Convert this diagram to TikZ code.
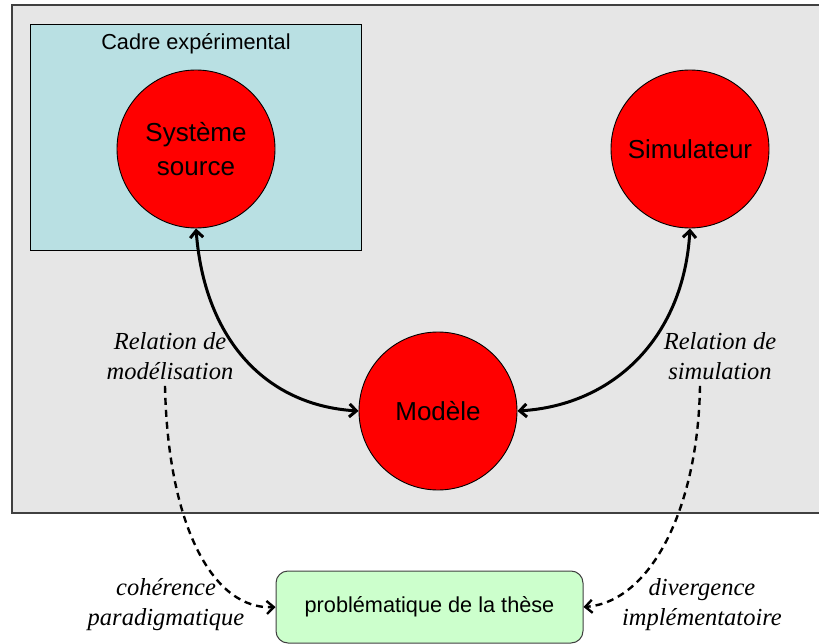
\documentclass[tikz,border=0pt]{standalone}
\usepackage{fontspec}
\setmainfont{Liberation Sans}
\newfontfamily\labelfont{Liberation Serif}
\usetikzlibrary{arrows.meta}
\definecolor{fondgris}{RGB}{230,230,230}
\definecolor{cadrebleu}{RGB}{185,224,227}
\definecolor{vertpale}{RGB}{204,255,204}
\definecolor{bordgris}{RGB}{64,64,64}

\begin{document}
\begin{tikzpicture}[x=1pt,y=-1pt,
    bulle/.style={draw,circle,fill=red,line width=0.9pt,minimum size=158pt,inner sep=0pt,align=center,font=\fontsize{26}{34}\selectfont},
    relation/.style={align=center,inner sep=0pt,font=\labelfont\itshape\fontsize{24.5}{30}\selectfont},
    lien/.style={line width=3pt,{Straight Barb[length=7pt,width=13pt]}-{Straight Barb[length=7pt,width=13pt]}},
    pointille/.style={line width=2.4pt,dash pattern=on 7pt off 5pt,-{Straight Barb[length=7pt,width=13pt]}}]
            \useasboundingbox (0,0) rectangle (819,644);
            \clip (0,0) rectangle (819,644);
            \draw[bordgris,fill=fondgris,line width=1.5pt] (12,5) rectangle (830,513);
            \draw[black,fill=cadrebleu,line width=1pt] (30,25) rectangle (361,251);
            \node (cadre) at (196,44) [font=\fontsize{21.7}{26}\selectfont] {Cadre expérimental};
            \node (systeme) at (196,149) [bulle] {Système\\source};
            \node (simulateur) at (690,149) [bulle] {Simulateur};
            \node (modele) at (438,411) [bulle] {Modèle};
            \node (these) at (429.5,607) [draw=bordgris,fill=vertpale,line width=1pt,rounded corners=12pt,minimum width=307pt,minimum height=72pt,font=\fontsize{21.7}{26}\selectfont] {problématique de la thèse};
            \node (relmod) at (170,356) [relation] {Relation de\\modélisation};
            \node (relsim) at (720,356) [relation] {Relation de\\simulation};
            \node (coherence) at (166,605) [relation] {cohérence\\paradigmatique};
            \node (divergence) at (702,605) [relation] {divergence\\implémentatoire};
            \draw[lien] (systeme.south) .. controls (204,335) and (262,405) .. (modele.west);
            \draw[lien] (simulateur.south) .. controls (684,335) and (616,405) .. (modele.east);
            \draw[pointille] ([xshift=-5pt,yshift=-6pt]relmod.south) .. controls (168,530) and (215,610) .. (these.west);
            \draw[pointille] ([xshift=-20pt,yshift=-6pt]relsim.south) .. controls (698,510) and (650,602) .. (these.east);
        \end{tikzpicture}
\end{document}
